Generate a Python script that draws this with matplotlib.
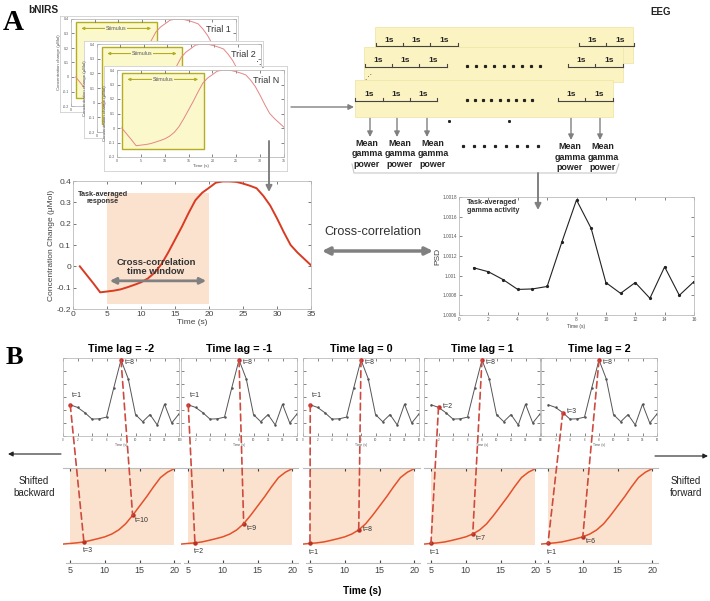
import numpy as np
import matplotlib
matplotlib.use("Agg")
import matplotlib.pyplot as plt
from matplotlib.patches import Rectangle, ConnectionPatch
from matplotlib.ticker import FormatStrFormatter

plt.rcParams['font.family'] = ['Liberation Sans', 'DejaVu Sans']

# Task-averaged bNIRS response (1 s samples)
resp_t = list(range(1, 36))
resp_val = [0.0, -0.04, -0.08, -0.122, -0.118, -0.114, -0.108, -0.098, -0.087, -0.075,
            -0.057, -0.03, 0.01, 0.065, 0.125, 0.185, 0.25, 0.31, 0.345, 0.368,
            0.392, 0.398, 0.398, 0.396, 0.388, 0.378, 0.366, 0.33, 0.285, 0.225,
            0.16, 0.1, 0.065, 0.035, 0.005]

# Task-averaged gamma activity (PSD)
psd_t = list(range(1, 17))
psd_val = [1.00108, 1.00104, 1.00096, 1.00086, 1.000865, 1.00089, 1.00134, 1.00177,
           1.00148, 1.00093, 1.00082, 1.00093, 1.00077, 1.00109, 1.0008, 1.00094]

# Panel B: time lags and the PSD samples that are linked
lags = [-2, -1, 0, 1, 2]
psd_first = [1, 1, 1, 2, 3]
psd_peak = 8
window_start = 4  # response sample k sits at 4 + k seconds

trial_names = ['Trial 1', 'Trial 2', 'Trial N']

W, H = 710, 601
RED = '#d93a22'
SHADE = '#fbe2cf'
GRAY = '#808080'
DASH = '#cc4b3e'

fig = plt.figure(figsize=(W / 100, H / 100), dpi=100)


def pax(x0, y0, x1, y1, **kw):
    """Axes from pixel box (top-left origin)."""
    return fig.add_axes([x0 / W, 1 - y1 / H, (x1 - x0) / W, (y1 - y0) / H], **kw)


def matlab_style(ax, size, color='#555555'):
    ax.tick_params(direction='in', labelsize=size, colors=color, length=2, width=0.5,
                   top=True, right=True, pad=1.5)
    for s in ax.spines.values():
        s.set_color('#bbbbbb')
        s.set_linewidth(0.6)


# ---------------- Panel A: trial stack ----------------
cards = [(60, 16, 238, 112), (84, 41, 263, 138), (104, 66, 287, 171)]
inner = [(71, 19, 236, 106), (97, 44, 261, 132), (117, 70, 284, 157)]
for name, c, b in zip(trial_names, cards, inner):
    card = pax(*c)
    card.set_xticks([])
    card.set_yticks([])
    for s in card.spines.values():
        s.set_color('#d0d0d0')
        s.set_linewidth(0.6)
    ax = pax(*b)
    ax.add_patch(Rectangle((1, -0.145), 17.2, 0.525, fc='#fbf9cc', ec='#b3ad1f', lw=1.0, zorder=0.5))
    ax.annotate('', xy=(17.6, 0.335), xytext=(1.6, 0.335),
                arrowprops=dict(arrowstyle='<|-|>', color='#b3ad1f', lw=0.8, mutation_scale=4))
    ax.text(9.6, 0.335, 'Stimulus', fontsize=3.8, color='#555555', ha='center', va='center',
            bbox=dict(fc='#fbf9cc', ec='none', pad=0.6))
    ax.plot(resp_t, resp_val, color='#e58585', lw=0.7, zorder=2)
    ax.set_xlim(0, 35)
    ax.set_ylim(-0.2, 0.4)
    ax.set_xticks(range(0, 36, 5))
    ax.set_yticks([-0.2, -0.1, 0, 0.1, 0.2, 0.3, 0.4])
    ax.yaxis.set_major_formatter(FormatStrFormatter('%g'))
    matlab_style(ax, 2.6)
    ax.set_ylabel('Concentration change (μMol)', fontsize=3.2, color='#555555', labelpad=1)
    ax.set_xlabel('Time (s)', fontsize=3.2, color='#555555', labelpad=1)
    ax.text(0.97, 0.885, name, transform=ax.transAxes, ha='right', va='center',
            fontsize=6.5, color='#333333')

# ---------------- Panel A: task-averaged response ----------------
ax = pax(73, 181, 311, 309)
ax.axvspan(5, 20, ymin=(-0.177 + 0.2) / 0.6, ymax=(0.343 + 0.2) / 0.6, color=SHADE, lw=0, zorder=0)
ax.plot(resp_t, resp_val, color=RED, lw=1.4, zorder=2)
ax.set_xlim(0, 35)
ax.set_ylim(-0.2, 0.4)
ax.set_xticks(range(0, 36, 5))
ax.set_yticks([-0.2, -0.1, 0, 0.1, 0.2, 0.3, 0.4])
ax.yaxis.set_major_formatter(FormatStrFormatter('%g'))
matlab_style(ax, 6, '#444444')
ax.set_xlabel('Time (s)', fontsize=6, color='#444444', labelpad=1)
ax.set_ylabel('Concentration Change (μMol)', fontsize=6, color='#444444', labelpad=1)
ax.text(0.126, 0.867, 'Task-averaged\nresponse', transform=ax.transAxes, ha='center', va='center',
        fontsize=5.2, fontweight='bold', color='#333333', linespacing=1.1)
ax.text(0.349, 0.33, 'Cross-correlation\ntime window', transform=ax.transAxes, ha='center',
        va='center', fontsize=6.8, fontweight='bold', color='#333333', linespacing=1.05)
ax.annotate('', xy=(20, -0.068), xytext=(5, -0.068),
            arrowprops=dict(arrowstyle='<|-|>', color=GRAY, lw=2.0, mutation_scale=9))

# ---------------- Panel A: task-averaged gamma activity ----------------
ax = pax(459, 197, 694, 315)
ax.plot(psd_t, psd_val, color='#222222', lw=0.8, marker='o', ms=1.3)
ax.set_xlim(0, 16)
ax.set_ylim(1.0006, 1.0018)
ax.set_xticks(range(0, 17, 2))
ax.set_yticks([1.0006, 1.0008, 1.001, 1.0012, 1.0014, 1.0016, 1.0018])
ax.yaxis.set_major_formatter(FormatStrFormatter('%g'))
matlab_style(ax, 3.4)
ax.set_xlabel('Time (s)', fontsize=3.6, color='#444444', labelpad=1.5)
ax.set_ylabel('PSD', fontsize=6, color='#444444', labelpad=1)
ax.text(0.034, 0.98, 'Task-averaged\ngamma activity', transform=ax.transAxes, ha='left', va='top',
        fontsize=5.2, fontweight='bold', color='#333333', linespacing=1.1)

# ---------------- Panel B ----------------
top_x0 = [63, 181, 303, 424, 541]
for i, (lag, p0) in enumerate(zip(lags, psd_first)):
    x0 = top_x0[i]
    top = pax(x0, 358, x0 + 116, 436)
    top.plot(psd_t, psd_val, color='#555555', lw=0.7, marker='o', ms=0.8)
    top.set_xlim(0, 16)
    top.set_ylim(1.0006, 1.0018)
    top.set_xticks(range(0, 17, 2))
    top.set_yticks([1.0006, 1.0008, 1.001, 1.0012, 1.0014, 1.0016, 1.0018])
    top.set_yticklabels([])
    matlab_style(top, 2.2)
    top.set_facecolor('none')
    top.set_xlabel('Time (s)', fontsize=2.4, color='#555555', labelpad=0.5)
    top.set_title(f'Time lag = {lag}', fontsize=7.8, fontweight='bold', pad=4)

    bot = pax(x0, 468, x0 + 117, 545)
    bot.axvspan(5, 20, color=SHADE, lw=0, zorder=0)
    bot.plot(resp_t[window_start - 1:20], resp_val[window_start - 1:20], color='#e4502a', lw=1.1, zorder=2)
    bot.set_xlim(4, 20.8)
    bot.set_ylim(-0.128, 0.372)
    bot.set_facecolor('none')
    bot.set_xticks([5, 10, 15, 20])
    bot.set_yticks([])
    for s in ['left', 'right']:
        bot.spines[s].set_visible(False)
    for s in ['top', 'bottom']:
        bot.spines[s].set_color('#bbbbbb')
        bot.spines[s].set_linewidth(0.8)
    bot.spines['bottom'].set_position(('outward', 13))
    bot.spines['bottom'].set_bounds(4.5, 20.8)
    bot.tick_params(axis='x', direction='in', labelsize=6.5, colors='#444444', length=2,
                    top=True, pad=2)

    # linked samples: first PSD sample and the PSD peak
    for p, lab_top, lab_bot in [(p0, (1, 4, 'left', 'bottom'), (-1, -4, 'left', 'top')),
                                (psd_peak, (3, -2, 'left', 'center'), (2, -1, 'left', 'top'))]:
        k = p - lag
        tx, ty = psd_t[p - 1], psd_val[p - 1]
        bx, by = resp_t[window_start + k - 1], resp_val[window_start + k - 1]
        if p == p0 and lag > 0:
            lab_top = (3, 1, 'left', 'center')
        if p == psd_peak and lag == 0:
            lab_bot = (3, 0, 'left', 'center')
        top.plot(tx, ty, 'o', color='#cc2a2a', ms=2.2, zorder=4)
        bot.plot(bx, by, 'o', color='#b83224', ms=2.2, zorder=4)
        top.annotate(f't={p}', (tx, ty), xytext=lab_top[:2], textcoords='offset points',
                     ha=lab_top[2], va=lab_top[3], fontsize=5, color='#333333')
        bot.annotate(f't={k}', (bx, by), xytext=lab_bot[:2], textcoords='offset points',
                     ha=lab_bot[2], va=lab_bot[3], fontsize=5, color='#333333')
        con = ConnectionPatch(xyA=(tx, ty), coordsA='data', axesA=top,
                              xyB=(bx, by), coordsB='data', axesB=bot,
                              color=DASH, lw=1.2, linestyle=(0, (4, 2.5)))
        fig.add_artist(con)

# ---------------- Overlay: labels, arrows, EEG sketch ----------------
ov = fig.add_axes([0, 0, 1, 1], zorder=5)
ov.set_xlim(0, W)
ov.set_ylim(H, 0)
ov.axis('off')


def arrow(x0, y0, x1, y1, color=GRAY, lw=1.0, ms=8, style='-|>'):
    ov.annotate('', xy=(x1, y1), xytext=(x0, y0),
                arrowprops=dict(arrowstyle=style, color=color, lw=lw, mutation_scale=ms,
                                shrinkA=0, shrinkB=0))


ov.text(3, 23, 'A', fontsize=21, fontweight='bold', family='Liberation Serif', va='center')
ov.text(6, 357, 'B', fontsize=19, fontweight='bold', family='Liberation Serif', va='center')
ov.text(28, 10, 'bNIRS', fontsize=7.3, fontweight='bold', color='#222222', va='center')
ov.text(650, 12, 'EEG', fontsize=7, fontweight='bold', color='#222222', va='center')
ov.text(260, 66, '⋱', fontsize=6, ha='center', va='center', color='#333333')

# EEG layers: rect, "1s" row, brackets, dots
layers = [
    dict(rect=(375, 27, 633, 63), y=40, left=[376, 403, 430, 458], right=[579, 606, 634], dots=None),
    dict(rect=(364, 47, 623, 82), y=61, left=[365, 392, 419, 447], right=[568, 595, 623], dots=(467, 540, 66)),
    dict(rect=(355, 80, 613, 117), y=95, left=[355, 383, 410, 437], right=[558, 585, 613], dots=(467, 532, 100)),
]
for z, L in enumerate(layers):
    x0, y0, x1, y1 = L['rect']
    ov.add_patch(Rectangle((x0, y0), x1 - x0, y1 - y0, fc='#fcf3c2', ec='#f0e6a8', lw=0.6, zorder=2 + 2 * z))
    for b in [L['left'], L['right']]:
        by = L['y'] + 6
        ov.plot([b[0], b[-1]], [by, by], color='#444444', lw=0.8, zorder=3 + 2 * z)
        for xb in b:
            ov.plot([xb, xb], [by - 3, by], color='#444444', lw=0.8, zorder=3 + 2 * z)
        for xa, xb in zip(b[:-1], b[1:]):
            ov.text((xa + xb) / 2, L['y'], '1s', fontsize=6, fontweight='bold', ha='center',
                    va='center', color='#222222', zorder=3 + 2 * z)
    if L['dots']:
        ov.plot(np.linspace(L['dots'][0], L['dots'][1], 9), [L['dots'][2]] * 9, 's',
                color='#222222', ms=1.3, zorder=3 + 2 * z)
ov.text(368, 77, '⋰', fontsize=5, ha='center', va='center', color='#333333', zorder=9)
ov.plot([449, 509], [121, 121], 's', color='#222222', ms=1.1)

left_lab = [367, 400, 433]
right_lab = [570, 603]
for xa, xl in zip([370, 397, 427], left_lab):
    arrow(xa, 104, xa, 137)
    ov.text(xl, 154, 'Mean\ngamma\npower', fontsize=6.4, fontweight='bold', ha='center',
            va='center', linespacing=1.15, color='#222222')
for xa, xl in zip([571, 600], right_lab):
    arrow(xa, 104, xa, 140)
    ov.text(xl, 157, 'Mean\ngamma\npower', fontsize=6.4, fontweight='bold', ha='center',
            va='center', linespacing=1.15, color='#222222')
ov.plot(np.linspace(463, 538, 8), [146] * 8, 's', color='#222222', ms=1.3)
ov.plot([352, 354, 616, 619], [164, 173, 173, 164], color='#c8c8c8', lw=0.8)

# connecting arrows
arrow(291, 107, 354, 107)
arrow(269, 141, 269, 192, lw=1.4, ms=9)
arrow(538, 173, 538, 210, lw=1.4, ms=9)
ov.text(373, 232, 'Cross-correlation', fontsize=9.2, ha='center', va='center', color='#333333')
arrow(322, 251, 433, 251, lw=2.5, ms=11, style='<|-|>')

# shift indicators
arrow(61, 454, 8, 454, color='#222222', lw=0.8, ms=7)
arrow(655, 456, 708, 456, color='#222222', lw=0.8, ms=7)
ov.text(34, 487, 'Shifted\nbackward', fontsize=7, ha='center', va='center', color='#222222', linespacing=1.2)
ov.text(686, 487, 'Shifted\nforward', fontsize=7, ha='center', va='center', color='#222222', linespacing=1.2)
ov.text(362, 591, 'Time (s)', fontsize=7.2, fontweight='bold', ha='center', va='center')

fig.savefig('out.png', dpi=100, facecolor='white')
